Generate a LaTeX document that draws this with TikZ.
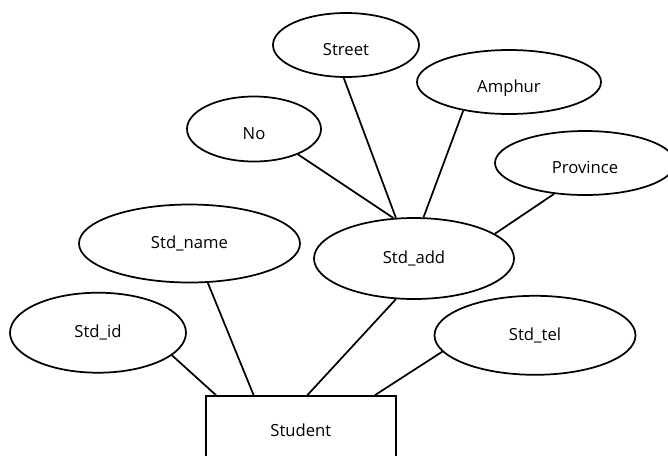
\documentclass[tikz,border=0pt]{standalone}
\usepackage{fontspec}
\setmainfont{Open Sans}
\usetikzlibrary{shapes.geometric,calc}
\begin{document}
\begin{tikzpicture}[x=0.75pt,y=-0.75pt,
  every node/.style={font=\fontsize{12.5pt}{15pt}\selectfont},
  attr/.style={ellipse, draw, line width=1.3pt, inner sep=0pt},
  lowtext/.style={text height=16pt, text depth=0pt},
  entity/.style={rectangle, draw, line width=1.3pt, inner sep=0pt},
  link/.style={line width=1.3pt}]
\useasboundingbox (0,0) rectangle (668,455);
\clip (0,0) rectangle (668,455);

% entity (its lower edge runs off the page)
\node[entity, minimum width=142.7pt, minimum height=51pt] (student) at (300.85,430) {Student};

% attributes of Student
\node[attr, minimum width=132pt,    minimum height=60pt]    (stdid)   at (98,332.7)   {Std\_id};
\node[attr, minimum width=165.75pt, minimum height=58.5pt]  (stdname) at (189.5,243.5) {Std\_name};
\node[attr, minimum width=150pt,    minimum height=60.75pt] (stdadd)  at (414,258.5)  {Std\_add};
\node[attr, minimum width=150.75pt, minimum height=59.25pt] (stdtel)  at (535,335.3)  {Std\_tel};

% parts of the composite address
\node[attr, lowtext, minimum width=100.5pt, minimum height=48.75pt] (no)       at (254,129) {No};
\node[attr, lowtext, minimum width=109.5pt, minimum height=48pt]    (street)   at (346,45)  {Street};
\node[attr, lowtext, minimum width=138pt,   minimum height=48pt]    (amphur)   at (509,82)  {Amphur};
\node[attr, lowtext, minimum width=135pt,   minimum height=48pt]    (province) at (585,163) {Province};

% connectors to the entity
\draw[link] (stdid.-17)     -- ($(student.north west)!0.058!(student.north east)$);
\draw[link] (stdname.-65.8) -- ($(student.north west)!0.254!(student.north east)$);
\draw[link] (stdadd.-114.3) -- ($(student.north west)!0.534!(student.north east)$);
\draw[link] (stdtel.190.3)  -- ($(student.north west)!0.886!(student.north east)$);

% connectors to the address
\draw[link] (no.-30.3)       -- (stdadd.117.6);
\draw[link] (street.266.8)   -- (stdadd.114.1);
\draw[link] (amphur.-148.2)  -- (stdadd.77);
\draw[link] (province.225.2) -- (stdadd.17.4);
\end{tikzpicture}
\end{document}
